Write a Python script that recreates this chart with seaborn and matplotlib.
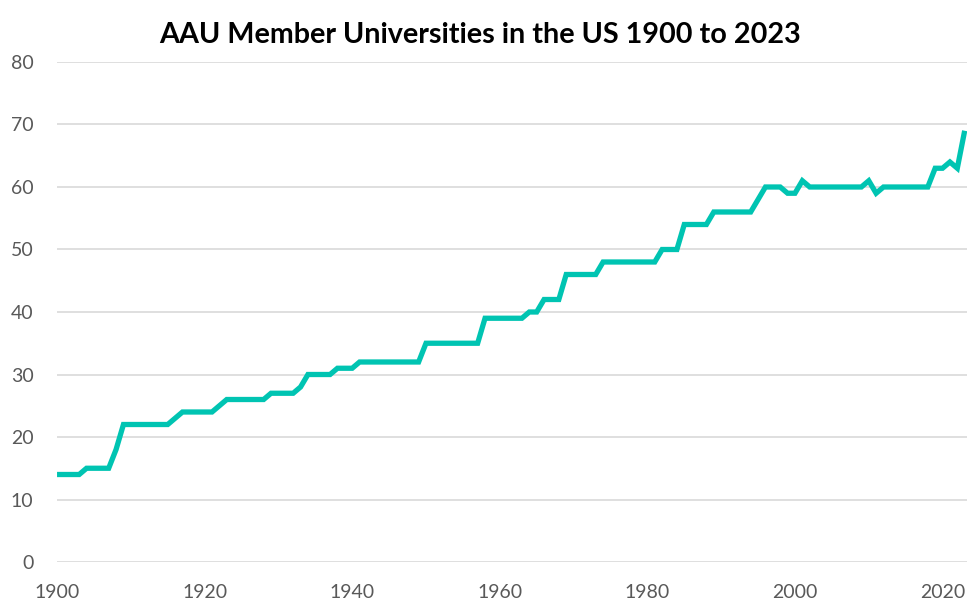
import pandas as pd
import seaborn as sns
import matplotlib.pyplot as plt

# Data: AAU member count per year
years = list(range(1900, 2024))
members = [
    14, 14, 14, 14, 15, 15, 15, 15, 18, 22,   # 1900-1909
    22, 22, 22, 22, 22, 22, 23, 24, 24, 24,   # 1910-1919
    24, 24, 25, 26, 26, 26, 26, 26, 26, 27,   # 1920-1929
    27, 27, 27, 28, 30, 30, 30, 30, 31, 31,   # 1930-1939
    31, 32, 32, 32, 32, 32, 32, 32, 32, 32,   # 1940-1949
    35, 35, 35, 35, 35, 35, 35, 35, 39, 39,   # 1950-1959
    39, 39, 39, 39, 40, 40, 42, 42, 42, 46,   # 1960-1969
    46, 46, 46, 46, 48, 48, 48, 48, 48, 48,   # 1970-1979
    48, 48, 50, 50, 50, 54, 54, 54, 54, 56,   # 1980-1989
    56, 56, 56, 56, 56, 58, 60, 60, 60, 59,   # 1990-1999
    59, 61, 60, 60, 60, 60, 60, 60, 60, 60,   # 2000-2009
    61, 59, 60, 60, 60, 60, 60, 60, 60, 63,   # 2010-2019
    63, 64, 63, 69,                           # 2020-2023
]
x_ticks = [1900, 1920, 1940, 1960, 1980, 2000, 2020]
y_ticks = [0, 10, 20, 30, 40, 50, 60, 70, 80]

df = pd.DataFrame({'year': years, 'members': members})

sns.set_style('white')
plt.rcParams['font.family'] = ['Lato', 'DejaVu Sans']

fig = plt.figure(figsize=(9.7, 6.06), dpi=100)
ax = fig.add_axes([0.0588, 0.0726, 0.938, 0.8251])

sns.lineplot(data=df, x='year', y='members', ax=ax, color='#00C4B2',
             linewidth=3.8, solid_joinstyle='miter', solid_capstyle='butt')

ax.set_xlim(1900, 2023.3)
ax.set_ylim(0, 80)
ax.set_xticks(x_ticks)
ax.set_yticks(y_ticks)
ax.tick_params(axis='both', labelsize=14, labelcolor='#595959', length=0)
ax.tick_params(axis='x', pad=16)
ax.tick_params(axis='y', pad=17)
ax.yaxis.grid(True, color='#D9D9D9', linewidth=1.2)
ax.xaxis.grid(False)
for s in ax.spines.values():
    s.set_visible(False)
ax.set_xlabel('')
ax.set_ylabel('')

fig.text(0.4948, 1 - 43.4 / 606, 'AAU Member Universities in the US 1900 to 2023',
         ha='center', va='baseline', fontsize=20.7, fontweight='bold', color='black')

fig.savefig('out.png', dpi=100)
